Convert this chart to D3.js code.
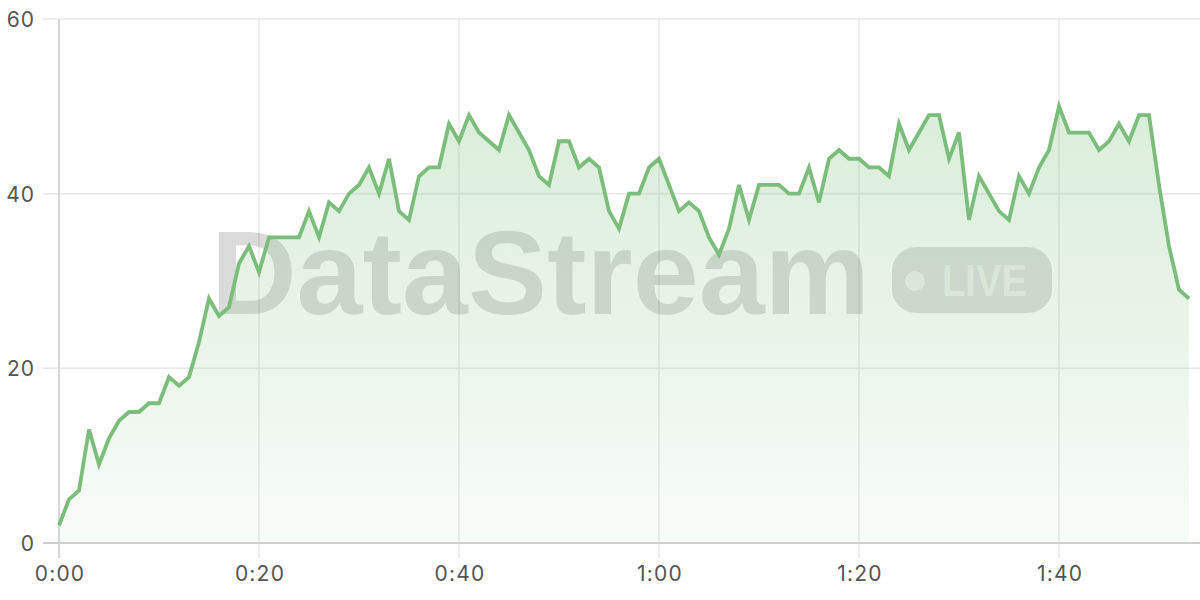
<!DOCTYPE html>
<html>
<head>
<meta charset="utf-8">
<script src="https://cdn.jsdelivr.net/npm/d3@7"></script>
<style>
  html, body { margin: 0; padding: 0; background: #fff; }
  svg { display: block; }
</style>
</head>
<body>
<svg id="chart" width="1200" height="600"></svg>
<script>
// Values, one per time step (seconds)
const values = [
  2, 5, 6, 13, 9, 12, 14, 15, 15, 16,
  16, 19, 18, 19, 23, 28, 26, 27, 32, 34,
  31, 35, 35, 35, 35, 38, 35, 39, 38, 40,
  41, 43, 40, 44, 38, 37, 42, 43, 43, 48,
  46, 49, 47, 46, 45, 49, 47, 45, 42, 41,
  46, 46, 43, 44, 43, 38, 36, 40, 40, 43,
  44, 41, 38, 39, 38, 35, 33, 36, 41, 37,
  41, 41, 41, 40, 40, 43, 39, 44, 45, 44,
  44, 43, 43, 42, 48, 45, 47, 49, 49, 44,
  47, 37, 42, 40, 38, 37, 42, 40, 43, 45,
  50, 47, 47, 47, 45, 46, 48, 46, 49, 49,
  41, 34, 29, 28
];
const xTicks = [0, 20, 40, 60, 80, 100];
const xTickLabels = ["0:00", "0:20", "0:40", "1:00", "1:20", "1:40"];
const yTicks = [0, 20, 40, 60];
const watermarkText = "DataStream";
const badgeText = "LIVE";

const svg = d3.select("#chart");
const x = d3.scaleLinear().domain([0, 114]).range([59, 1199]);
const y = d3.scaleLinear().domain([0, 60]).range([543, 19]);

const data = values.map((v, i) => ({ t: i, v }));

// gradient
const defs = svg.append("defs");
const grad = defs.append("linearGradient")
  .attr("id", "areaGrad")
  .attr("gradientUnits", "userSpaceOnUse")
  .attr("x1", 0).attr("x2", 0)
  .attr("y1", y(60)).attr("y2", y(0));
grad.append("stop").attr("offset", "0%").attr("stop-color", "rgb(120,190,120)").attr("stop-opacity", 0.32);
grad.append("stop").attr("offset", "100%").attr("stop-color", "rgb(120,190,120)").attr("stop-opacity", 0.05);

// grid: horizontal
const gridY = svg.append("g");
gridY.selectAll("line").data(yTicks.filter(d => d !== 0)).join("line")
  .attr("x1", 43).attr("x2", 1200)
  .attr("y1", d => y(d)).attr("y2", d => y(d))
  .attr("stroke", "#e8e8e8").attr("stroke-width", 1.5);

// grid: vertical
const gridX = svg.append("g");
gridX.selectAll("line").data(xTicks.filter(d => d !== 0)).join("line")
  .attr("x1", d => x(d)).attr("x2", d => x(d))
  .attr("y1", y(60)).attr("y2", 558)
  .attr("stroke", "#e8e8e8").attr("stroke-width", 1.5);

// watermark
const wm = svg.append("g");
wm.append("text")
  .attr("x", 211).attr("y", 314)
  .attr("font-family", "Liberation Sans, Arial, sans-serif")
  .attr("font-weight", 700)
  .attr("font-size", 118)
  .attr("textLength", 659)
  .attr("lengthAdjust", "spacingAndGlyphs")
  .attr("fill", "rgba(0,0,0,0.14)")
  .text(watermarkText);
wm.append("rect")
  .attr("x", 892).attr("y", 247).attr("width", 160).attr("height", 66)
  .attr("rx", 24).attr("ry", 24)
  .attr("fill", "rgba(0,0,0,0.13)");
wm.append("circle")
  .attr("cx", 915).attr("cy", 281).attr("r", 10)
  .attr("fill", "rgba(255,255,255,0.55)");
wm.append("text")
  .attr("x", 942).attr("y", 296)
  .attr("font-family", "Liberation Sans, Arial, sans-serif")
  .attr("font-weight", 700)
  .attr("font-size", 45)
  .attr("textLength", 85)
  .attr("lengthAdjust", "spacingAndGlyphs")
  .attr("fill", "rgba(255,255,255,0.55)")
  .text(badgeText);

// area
const area = d3.area().x(d => x(d.t)).y0(y(0)).y1(d => y(d.v));
svg.append("path").datum(data)
  .attr("d", area)
  .attr("fill", "url(#areaGrad)");

// axis lines
svg.append("line")
  .attr("x1", x(0)).attr("x2", x(0)).attr("y1", y(60)).attr("y2", 558)
  .attr("stroke", "#d6d6d6").attr("stroke-width", 2);
svg.append("line")
  .attr("x1", 43).attr("x2", 1200).attr("y1", y(0)).attr("y2", y(0))
  .attr("stroke", "#cfcfcf").attr("stroke-width", 2);

// line
const line = d3.line().x(d => x(d.t)).y(d => y(d.v));
svg.append("path").datum(data)
  .attr("d", line)
  .attr("fill", "none")
  .attr("stroke", "#7bbd7b")
  .attr("stroke-width", 3.8)
  .attr("stroke-linejoin", "miter");

// axes labels
const font = "Inter, sans-serif";
const yAxis = d3.axisLeft(y).tickValues(yTicks).tickSize(0).tickPadding(0);
const gy = svg.append("g").attr("transform", "translate(35,0)").call(yAxis);
gy.select(".domain").remove();
gy.selectAll("text")
  .attr("font-family", font).attr("font-size", 21).attr("fill", "#555")
  .attr("letter-spacing", "1px")
  .attr("dy", "0.36em");

const xAxis = d3.axisBottom(x).tickValues(xTicks).tickFormat((d, i) => xTickLabels[i]).tickSize(0).tickPadding(0);
const gx = svg.append("g").attr("transform", "translate(0.5,566)").call(xAxis);
gx.select(".domain").remove();
gx.selectAll("text")
  .attr("font-family", font).attr("font-size", 21).attr("fill", "#555")
  .attr("letter-spacing", "1.2px")
  .attr("dy", "0.71em");
</script>
</body>
</html>
